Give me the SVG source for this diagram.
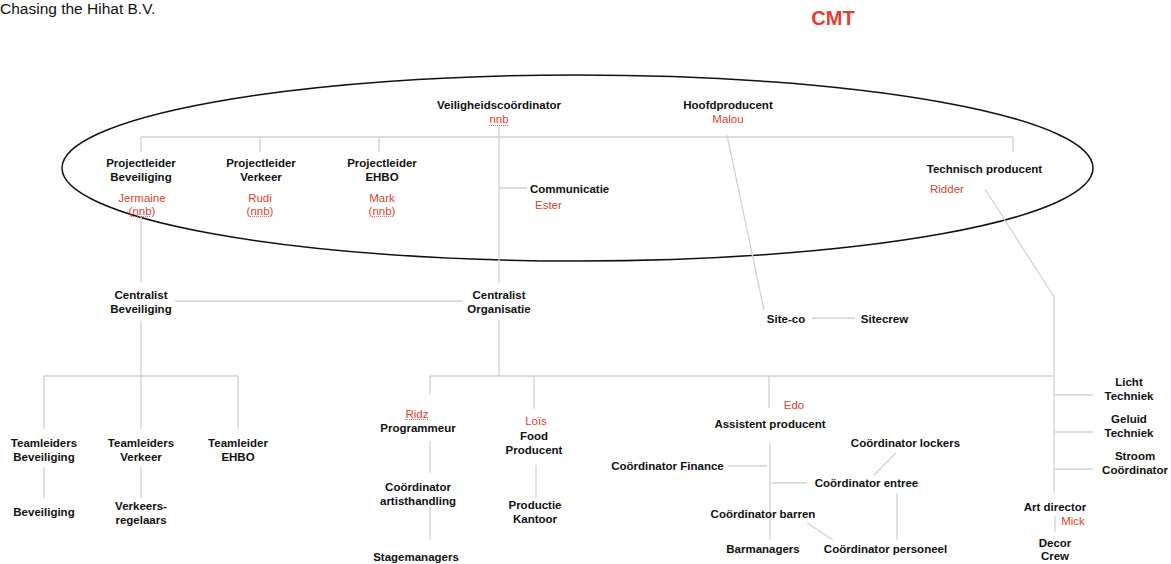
<svg xmlns="http://www.w3.org/2000/svg" width="1171" height="564" viewBox="0 0 1171 564">
<style>
text{font-family:"Liberation Sans",Arial,Helvetica,sans-serif;font-size:11.5px}
.b{font-weight:bold;fill:#111}
.r{fill:#e4402e}
.m{text-anchor:middle}
.ln{stroke:#d2d2d2;stroke-width:1.3;fill:none}
.ul{stroke:#e4402e;stroke-width:0.8;stroke-dasharray:1 1;fill:none}
</style>
<rect width="1171" height="564" fill="#fff"/>
<text x="0" y="14" style="font-size:15.5px" fill="#111">Chasing the Hihat B.V.</text>
<text x="833" y="25" class="m" style="font-size:20px;font-weight:bold" fill="#e4402e">CMT</text>
<ellipse id="cmt" cx="577.5" cy="168" rx="515.5" ry="93" fill="none" stroke="#111" stroke-width="1.5"/>

<g id="connectors">
<path class="ln" d="M141 137H1013M141 137V152M260 137V152M379 137V152M1013 137V152"/>
<path class="ln" d="M499 126V283M499 188H527"/>
<path class="ln" d="M141 217V282M175 301H463"/>
<path class="ln" d="M141 321V376M44 376H238M44 376V429M141 376V429M238 376V429"/>
<path class="ln" d="M44 467V498M141 467V498"/>
<path class="ln" d="M499 320V376M430 376H1053M430 376V394M534 376V409M769 376V408"/>
<path class="ln" d="M430 441V473M430 507V540M536 465V498"/>
<path class="ln" d="M770 443V540M728 466H767M772 483H807M896 453L874 475M807 523L833 540M897 493V540"/>
<path class="ln" d="M727 135L764 310M812 318H855"/>
<path class="ln" d="M985 189L1054 297M1054 297V493M1055 395H1093M1055 432H1093M1055 469H1093M1055 516V532"/>
<path class="ul" d="M489 125.5H508M131 216.5H150M250 216.5H269M372 216.5H391M405 419.5H428"/>
</g>

<g id="veiligheidscoordinator"><text x="499" y="109" class="b m">Veiligheidscoördinator</text><text x="499" y="123" class="r m">nnb</text></g>
<g id="hoofdproducent"><text x="728" y="109" class="b m">Hoofdproducent</text><text x="728" y="123" class="r m">Malou</text></g>
<g id="pl-beveiliging"><text x="141" y="167" class="b m">Projectleider</text><text x="141" y="181" class="b m">Beveiliging</text><text x="142" y="202" class="r m">Jermaine</text><text x="142" y="215" class="r m">(nnb)</text></g>
<g id="pl-verkeer"><text x="261" y="167" class="b m">Projectleider</text><text x="261" y="181" class="b m">Verkeer</text><text x="260" y="202" class="r m">Rudi</text><text x="260" y="215" class="r m">(nnb)</text></g>
<g id="pl-ehbo"><text x="382" y="167" class="b m">Projectleider</text><text x="382" y="181" class="b m">EHBO</text><text x="382" y="202" class="r m">Mark</text><text x="382" y="215" class="r m">(nnb)</text></g>
<g id="communicatie"><text x="530" y="193" class="b">Communicatie</text><text x="535" y="209" class="r">Ester</text></g>
<g id="technisch-producent"><text x="984.5" y="173" class="b m">Technisch producent</text><text x="930" y="193" class="r">Ridder</text></g>

<g id="centralist-beveiliging"><text x="141" y="299" class="b m">Centralist</text><text x="141" y="313" class="b m">Beveiliging</text></g>
<g id="centralist-organisatie"><text x="499" y="299" class="b m">Centralist</text><text x="499" y="313" class="b m">Organisatie</text></g>
<g id="site-co"><text x="786" y="323" class="b m">Site-co</text></g>
<g id="sitecrew"><text x="884.5" y="323" class="b m">Sitecrew</text></g>

<g id="tl-beveiliging"><text x="44" y="447" class="b m">Teamleiders</text><text x="44" y="461" class="b m">Beveiliging</text></g>
<g id="tl-verkeer"><text x="141" y="447" class="b m">Teamleiders</text><text x="141" y="461" class="b m">Verkeer</text></g>
<g id="tl-ehbo"><text x="238" y="447" class="b m">Teamleider</text><text x="238" y="461" class="b m">EHBO</text></g>
<g id="beveiliging"><text x="44" y="516" class="b m">Beveiliging</text></g>
<g id="verkeersregelaars"><text x="141" y="510" class="b m">Verkeers-</text><text x="141" y="524" class="b m">regelaars</text></g>

<g id="programmeur"><text x="417" y="418" class="r m">Ridz</text><text x="418" y="432" class="b m">Programmeur</text></g>
<g id="artisthandling"><text x="418" y="491" class="b m">Coördinator</text><text x="418" y="505" class="b m">artisthandling</text></g>
<g id="stagemanagers"><text x="416" y="561" class="b m">Stagemanagers</text></g>
<g id="food-producent"><text x="536" y="425" class="r m">Loïs</text><text x="534" y="440" class="b m">Food</text><text x="534" y="454" class="b m">Producent</text></g>
<g id="productie-kantoor"><text x="535" y="509" class="b m">Productie</text><text x="535" y="523" class="b m">Kantoor</text></g>

<g id="assistent-producent"><text x="794" y="409" class="r m">Edo</text><text x="770" y="428" class="b m">Assistent producent</text></g>
<g id="co-finance"><text x="667.5" y="470" class="b m">Coördinator Finance</text></g>
<g id="co-lockers"><text x="905.5" y="447" class="b m">Coördinator lockers</text></g>
<g id="co-entree"><text x="866.5" y="487" class="b m">Coördinator entree</text></g>
<g id="co-barren"><text x="763" y="518" class="b m">Coördinator barren</text></g>
<g id="barmanagers"><text x="763" y="553" class="b m">Barmanagers</text></g>
<g id="co-personeel"><text x="885.5" y="553" class="b m">Coördinator personeel</text></g>

<g id="licht"><text x="1129" y="386" class="b m">Licht</text><text x="1129" y="400" class="b m">Techniek</text></g>
<g id="geluid"><text x="1129" y="423" class="b m">Geluid</text><text x="1129" y="437" class="b m">Techniek</text></g>
<g id="stroom"><text x="1135" y="460" class="b m">Stroom</text><text x="1135" y="474" class="b m">Coördinator</text></g>
<g id="art-director"><text x="1055" y="511" class="b m">Art director</text><text x="1073" y="525" class="r m">Mick</text></g>
<g id="decor-crew"><text x="1055" y="547" class="b m">Decor</text><text x="1055" y="560" class="b m">Crew</text></g>
</svg>
